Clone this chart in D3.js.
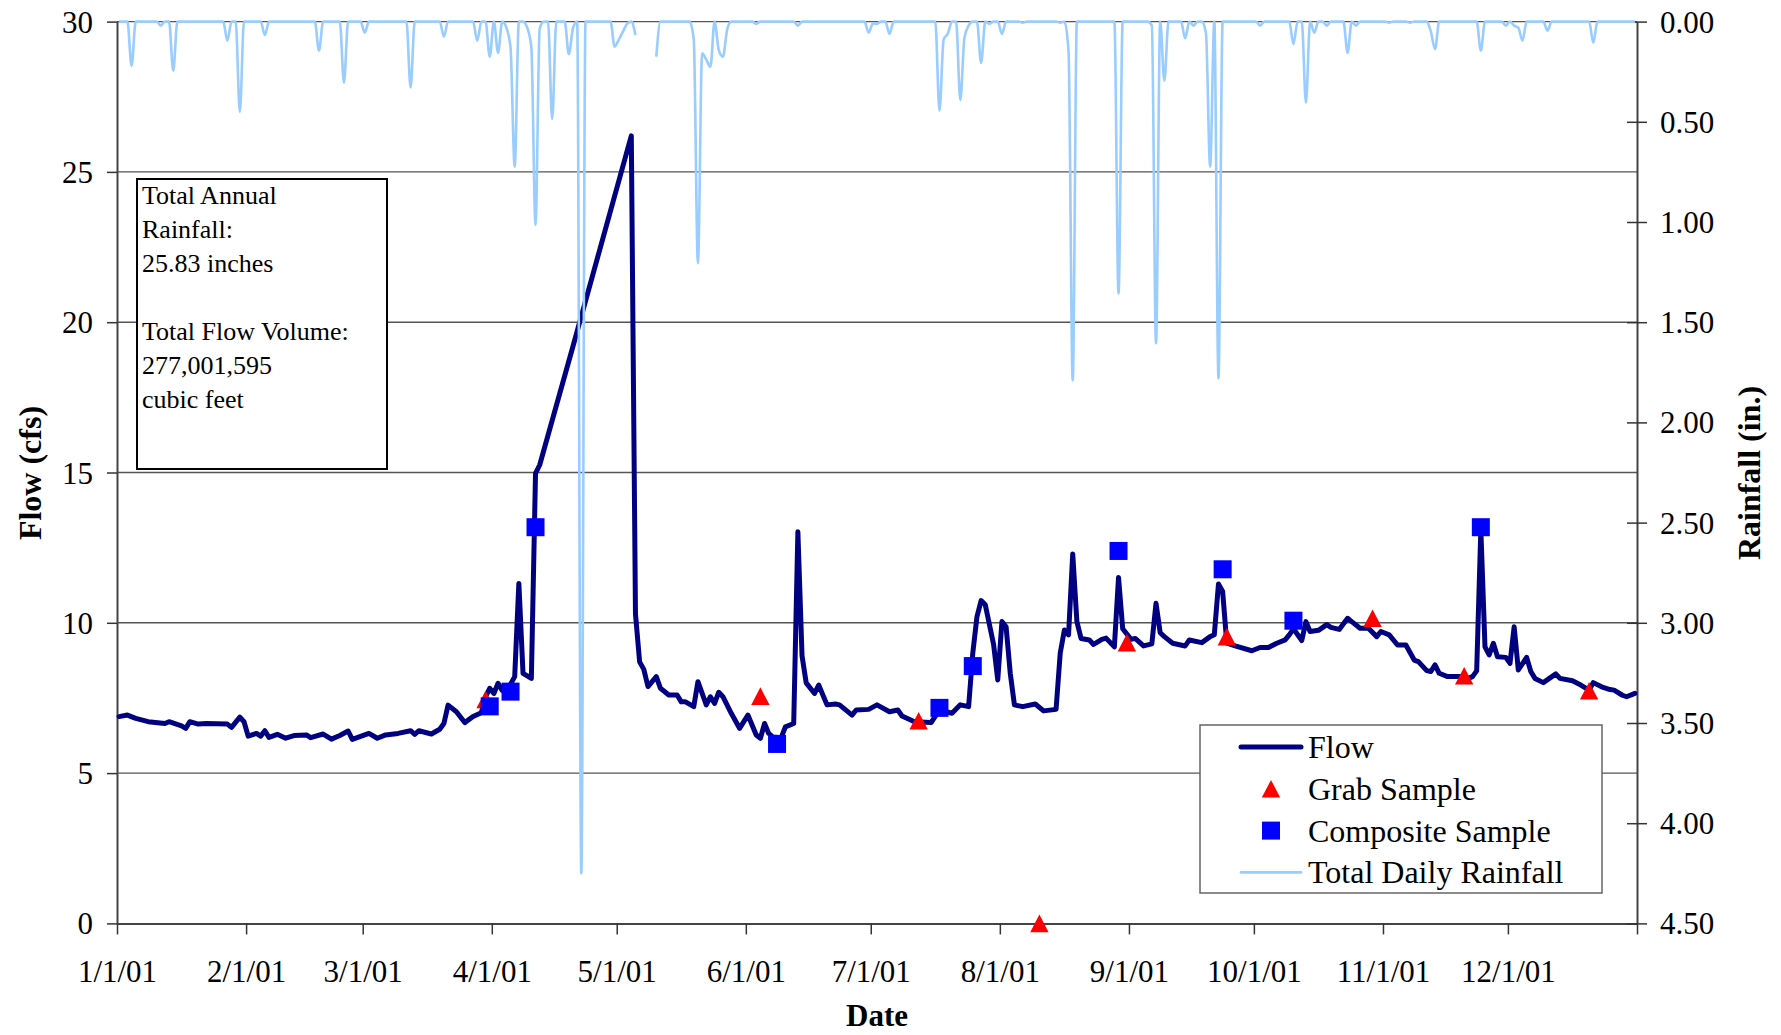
<!DOCTYPE html>
<html>
<head>
<meta charset="utf-8">
<script src="https://cdn.jsdelivr.net/npm/d3@7"></script>
<style>
  body { margin: 0; background: #fff; }
  svg text { font-family: "Liberation Serif", "Times New Roman", serif; fill: #000; }
</style>
</head>
<body>
<svg id="chart" width="1781" height="1035"></svg>
<script>
// ---- data ----
const flowDates = ['1/1/01','1/3/01','1/5/01','1/8/01','1/12/01','1/13/01','1/16/01','1/17/01','1/18/01','1/20/01',
  '1/22/01','1/27/01','1/28/01','1/30/01','1/31/01','2/1/01','2/3/01','2/4/01','2/5/01','2/6/01',
  '2/8/01','2/10/01','2/12/01','2/15/01','2/16/01','2/19/01','2/21/01','2/23/01','2/25/01','2/26/01',
  '3/2/01','3/4/01','3/6/01','3/9/01','3/12/01','3/13/01','3/14/01','3/17/01','3/19/01','3/20/01',
  '3/21/01','3/23/01','3/25/01','3/27/01','3/29/01','3/30/01','3/31/01','4/1/01','4/2/01','4/3/01',
  '4/4/01','4/6/01','4/7/01','4/8/01','4/10/01','4/11/01','4/12/01','4/20/01','5/4/01','5/5/01',
  '5/6/01','5/7/01','5/8/01','5/10/01','5/11/01','5/13/01','5/15/01','5/16/01','5/17/01','5/19/01',
  '5/20/01','5/22/01','5/23/01','5/24/01','5/25/01','5/26/01','5/28/01','5/30/01','6/1/01','6/3/01',
  '6/4/01','6/5/01','6/6/01','6/7/01','6/9/01','6/10/01','6/12/01','6/13/01','6/14/01','6/15/01',
  '6/17/01','6/18/01','6/20/01','6/22/01','6/23/01','6/26/01','6/27/01','6/30/01','7/2/01','7/5/01',
  '7/7/01','7/8/01','7/11/01','7/15/01','7/17/01','7/20/01','7/22/01','7/24/01','7/25/01','7/26/01',
  '7/27/01','7/28/01','7/30/01','7/31/01','8/1/01','8/2/01','8/3/01','8/4/01','8/6/01','8/9/01',
  '8/11/01','8/14/01','8/15/01','8/16/01','8/17/01','8/18/01','8/19/01','8/20/01','8/22/01','8/23/01',
  '8/25/01','8/26/01','8/28/01','8/29/01','8/30/01','9/1/01','9/2/01','9/4/01','9/6/01','9/7/01',
  '9/8/01','9/9/01','9/11/01','9/14/01','9/15/01','9/18/01','9/20/01','9/21/01','9/22/01','9/23/01',
  '9/24/01','9/26/01','9/30/01','10/2/01','10/4/01','10/6/01','10/8/01','10/9/01','10/10/01','10/12/01',
  '10/13/01','10/14/01','10/16/01','10/18/01','10/19/01','10/21/01','10/23/01','10/24/01','10/26/01','10/28/01',
  '10/30/01','10/31/01','11/2/01','11/4/01','11/6/01','11/8/01','11/9/01','11/11/01','11/12/01','11/13/01',
  '11/14/01','11/16/01','11/19/01','11/21/01','11/22/01','11/23/01','11/24/01','11/25/01','11/26/01','11/27/01',
  '11/28/01','11/30/01','12/1/01','12/2/01','12/3/01','12/5/01','12/6/01','12/7/01','12/9/01','12/12/01',
  '12/13/01','12/16/01','12/18/01','12/20/01','12/21/01','12/23/01','12/25/01','12/26/01','12/28/01','12/29/01',
  '12/31/01']
const flowCfs = [6.88,6.93,6.82,6.71,6.65,6.71,6.57,6.49,6.71,6.63,
  6.65,6.63,6.52,6.86,6.71,6.23,6.32,6.23,6.41,6.19,
  6.29,6.16,6.25,6.27,6.18,6.30,6.13,6.25,6.40,6.12,
  6.32,6.16,6.27,6.32,6.41,6.29,6.41,6.30,6.46,6.65,
  7.26,7.04,6.68,6.88,7.01,7.54,7.82,7.65,7.99,7.75,
  7.70,8.21,11.31,8.32,8.15,14.97,15.25,19.2,26.2,10.3,
  8.7,8.45,7.88,8.21,7.82,7.60,7.60,7.37,7.37,7.21,
  8.04,7.27,7.54,7.32,7.69,7.54,6.99,6.49,6.93,6.27,
  6.16,6.65,6.32,6.20,6.18,6.54,6.65,13.03,8.9,8.0,
  7.65,7.93,7.27,7.30,7.27,6.93,7.10,7.12,7.27,7.04,
  7.10,6.90,6.71,6.68,7.10,6.99,7.27,7.21,8.99,10.2,
  10.74,10.6,9.28,8.1,10.04,9.87,8.32,7.27,7.21,7.30,
  7.07,7.12,8.99,9.76,9.60,12.29,10.04,9.48,9.43,9.28,
  9.45,9.49,9.20,11.51,9.8,9.45,9.48,9.23,9.30,10.65,
  9.67,9.54,9.32,9.23,9.43,9.34,9.54,9.60,11.29,11.04,
  9.32,9.23,9.07,9.18,9.18,9.32,9.43,9.6,9.8,9.41,
  10.04,9.71,9.75,9.94,9.85,9.78,10.15,10.04,9.82,9.82,
  9.54,9.71,9.60,9.26,9.26,8.76,8.71,8.41,8.38,8.60,
  8.32,8.21,8.21,8.15,8.21,8.4,13.1,9.2,8.93,9.32,
  8.87,8.85,8.65,9.87,8.43,8.85,8.38,8.15,8.01,8.30,
  8.15,8.07,7.93,7.76,8.01,7.87,7.78,7.76,7.59,7.54,
  7.65]

const grabDates = ['3/30/01','6/4/01','7/12/01','8/10/01','8/31/01','9/24/01','10/29/01','11/20/01','12/20/01']
const grabCfs = [7.45,7.56,6.74,0,9.34,9.54,10.15,8.24,7.74]

const compositeDates = ['3/31/01','4/5/01','4/11/01','6/8/01','7/17/01','7/25/01','8/29/01','9/23/01','10/10/01','11/24/01']
const compositeCfs = [7.22,7.71,13.18,5.97,7.17,8.56,12.39,11.78,10.07,13.18]

// days with rain (all other days read as 0.00)
const rainDates = ['1/4/01','1/11/01','1/14/01','1/27/01','1/30/01','2/5/01','2/18/01','2/24/01','3/1/01','3/12/01',
  '3/20/01','3/28/01','3/31/01','4/2/01','4/4/01','4/5/01','4/6/01','4/9/01','4/10/01','4/11/01',
  '4/12/01','4/15/01','4/19/01','4/20/01','4/22/01','4/30/01','5/1/01','5/2/01','5/3/01','5/5/01',
  '5/10/01','5/19/01','5/20/01','5/21/01','5/22/01','5/23/01','5/25/01','5/26/01','5/27/01','6/3/01',
  '6/13/01','6/30/01','7/1/01','7/2/01','7/5/01','7/17/01','7/18/01','7/19/01','7/22/01','7/23/01',
  '7/24/01','7/27/01','7/29/01','8/1/01','8/6/01','8/15/01','8/17/01','8/18/01','8/29/01','9/6/01',
  '9/7/01','9/9/01','9/14/01','9/16/01','9/19/01','9/20/01','9/22/01','10/2/01','10/10/01','10/13/01',
  '10/15/01','10/18/01','10/23/01','10/25/01','11/2/01','11/7/01','11/12/01','11/13/01','11/24/01','11/30/01',
  '12/2/01','12/3/01','12/4/01','12/10/01','12/21/01']
const rainInches = [0.22,0.02,0.245,0.095,0.45,0.067,0.145,0.305,0.055,0.328,
  0.075,0.095,0.175,0.155,0.03,0.13,0.724,0.03,0.13,1.015,
  0.035,0.485,0.162,0.032,4.25,0.125,0.09,0.05,0.01,0.067,
  0.175,0.09,1.206,0.158,0.19,0.225,0.142,0.175,0.042,0.01,
  0.02,0.055,0.01,0.01,0.062,0.445,0.09,0.06,0.391,0.08,
  0.02,0.205,0.01,0.062,0.005,0.005,0.15,1.79,1.356,0.02,
  1.605,0.295,0.083,0.02,0.06,0.724,1.78,0.02,0.112,0.405,
  0.055,0.02,0.155,0.02,0.005,0.005,0.05,0.138,0.145,0.02,
  0.02,0.03,0.095,0.045,0.105]
// no rain record for these days
const rainMissing = ['5/6/01','5/7/01','5/8/01','5/9/01']

const flowTicks = [0, 5, 10, 15, 20, 25, 30]
const rainTicks = [0, 0.5, 1, 1.5, 2, 2.5, 3, 3.5, 4, 4.5]

const noteLines = ['Total Annual', 'Rainfall:', '25.83 inches', '', 'Total Flow Volume:', '277,001,595', 'cubic feet']

// ---- layout ----
const plotL = 117, plotR = 1637, plotT = 21.6, plotB = 923.4
const navy = '#000080', rainBlue = '#99ccff'

const parse = d3.utcParse('%m/%d/%y')
const midDay = s => d3.utcHour.offset(parse(s), 12)

const svg = d3.select('#chart')

const x = d3.scaleUtc()
  .domain([parse('1/1/01'), parse('1/1/02')])
  .range([plotL, plotR])
const y = d3.scaleLinear().domain([0, 30]).range([plotB, plotT])
const yRain = d3.scaleLinear().domain([0, 4.5]).range([plotT, plotB])

// gridlines
svg.append('g')
  .selectAll('line')
  .data(flowTicks.slice(1))
  .join('line')
  .attr('x1', plotL).attr('x2', plotR)
  .attr('y1', d => y(d)).attr('y2', d => y(d))
  .attr('stroke', '#555').attr('stroke-width', 1.4)

// axes
const months = d3.utcMonth.range(parse('1/1/01'), parse('1/2/02'))
const fmt = d3.utcFormat('%-m/%-d/%y')

const xAxis = svg.append('g')
  .attr('transform', `translate(0,${plotB})`)
  .call(d3.axisBottom(x).tickValues(months).tickSize(11).tickSizeOuter(0)
    .tickFormat(d => d.getUTCFullYear() === 2001 ? fmt(d) : ''))
xAxis.selectAll('text').attr('y', 59).attr('dy', 0).style('font-size', '31px')

const yAxis = svg.append('g')
  .attr('transform', `translate(${plotL},0)`)
  .call(d3.axisLeft(y).tickValues(flowTicks).tickSize(10).tickPadding(14).tickSizeOuter(0))
yAxis.selectAll('text').attr('dy', '0.34em').style('font-size', '31px')

const rAxis = svg.append('g')
  .attr('transform', `translate(${plotR},0)`)
  .call(d3.axisRight(yRain).tickValues(rainTicks).tickFormat(d3.format('.2f'))
    .tickSize(10).tickPadding(13).tickSizeOuter(0))
rAxis.selectAll('.tick line').attr('x1', -10)
rAxis.selectAll('text').attr('dy', '0.34em').style('font-size', '31px')

svg.selectAll('.domain').attr('stroke', '#444').attr('stroke-width', 2)
svg.selectAll('.tick line').attr('stroke', '#333').attr('stroke-width', 1.5)
svg.selectAll('g[font-family]').attr('font-family', null)

// note box
const note = svg.append('g')
note.append('rect')
  .attr('x', 137).attr('y', 179).attr('width', 250).attr('height', 290)
  .attr('fill', '#fff').attr('stroke', '#000').attr('stroke-width', 2)
note.selectAll('text')
  .data(noteLines)
  .join('text')
  .attr('x', 142)
  .attr('y', (d, i) => 204 + i * 34)
  .style('font-size', '26px')
  .text(d => d)

// flow line
const flowData = flowDates.map((d, i) => ({ date: midDay(d), v: flowCfs[i] }))
svg.append('path')
  .datum(flowData)
  .attr('fill', 'none')
  .attr('stroke', navy)
  .attr('stroke-width', 5)
  .attr('stroke-linejoin', 'round')
  .attr('stroke-linecap', 'round')
  .attr('d', d3.line().x(d => x(d.date)).y(d => y(d.v)))

// sample markers
const triPath = 'M0,-8.8L9.2,8.8L-9.2,8.8Z'
svg.append('g')
  .selectAll('path')
  .data(grabDates.map((d, i) => ({ date: midDay(d), v: grabCfs[i] })))
  .join('path')
  .attr('d', triPath)
  .attr('transform', d => `translate(${x(d.date)},${y(d.v)})`)
  .attr('fill', '#ff0000')

svg.append('g')
  .selectAll('rect')
  .data(compositeDates.map((d, i) => ({ date: midDay(d), v: compositeCfs[i] })))
  .join('rect')
  .attr('x', d => x(d.date) - 9).attr('y', d => y(d.v) - 9)
  .attr('width', 18).attr('height', 18)
  .attr('fill', '#0000ff')

// daily rainfall table
const rainByDay = new Map(rainDates.map((d, i) => [+parse(d), rainInches[i]]))
const missing = new Set(rainMissing.map(d => +parse(d)))
const rainDaily = d3.utcDay.range(parse('1/1/01'), parse('1/1/02')).map(d => ({
  date: d3.utcHour.offset(d, 12),
  v: missing.has(+d) ? null : (rainByDay.get(+d) || 0)
}))
svg.append('path')
  .datum(rainDaily)
  .attr('fill', 'none')
  .attr('stroke', rainBlue)
  .attr('stroke-width', 2.6)
  .attr('stroke-linejoin', 'round')
  .attr('d', d3.line().defined(d => d.v !== null).curve(d3.curveMonotoneX)
    .x(d => x(d.date)).y(d => yRain(d.v)))

// axis titles
svg.append('text')
  .attr('transform', 'translate(41,473) rotate(-90)')
  .attr('text-anchor', 'middle')
  .style('font-size', '32px').style('font-weight', 'bold')
  .text('Flow (cfs)')
svg.append('text')
  .attr('transform', 'translate(1760,473) rotate(-90)')
  .attr('text-anchor', 'middle')
  .style('font-size', '32px').style('font-weight', 'bold')
  .text('Rainfall (in.)')
svg.append('text')
  .attr('x', (plotL + plotR) / 2).attr('y', 1026)
  .attr('text-anchor', 'middle')
  .style('font-size', '31px').style('font-weight', 'bold')
  .text('Date')

// legend
const legend = svg.append('g')
legend.append('rect')
  .attr('x', 1200).attr('y', 725).attr('width', 402).attr('height', 168)
  .attr('fill', '#fff').attr('stroke', '#666').attr('stroke-width', 1.5)
const rows = [
  { label: 'Flow', kind: 'line', color: navy, w: 5 },
  { label: 'Grab Sample', kind: 'tri', color: '#ff0000' },
  { label: 'Composite Sample', kind: 'sq', color: '#0000ff' },
  { label: 'Total Daily Rainfall', kind: 'line', color: rainBlue, w: 2.6 }
]
rows.forEach((r, i) => {
  const cy = 747 + i * 41.8
  if (r.kind === 'line') {
    legend.append('line')
      .attr('x1', 1241).attr('x2', 1301).attr('y1', cy).attr('y2', cy)
      .attr('stroke', r.color).attr('stroke-width', r.w).attr('stroke-linecap', 'round')
  } else if (r.kind === 'tri') {
    legend.append('path').attr('d', triPath)
      .attr('transform', `translate(1271,${cy})`).attr('fill', r.color)
  } else {
    legend.append('rect').attr('x', 1262).attr('y', cy - 9)
      .attr('width', 18).attr('height', 18).attr('fill', r.color)
  }
  legend.append('text')
    .attr('x', 1308).attr('y', cy + 11)
    .style('font-size', '32px')
    .text(r.label)
})
</script>
</body>
</html>
